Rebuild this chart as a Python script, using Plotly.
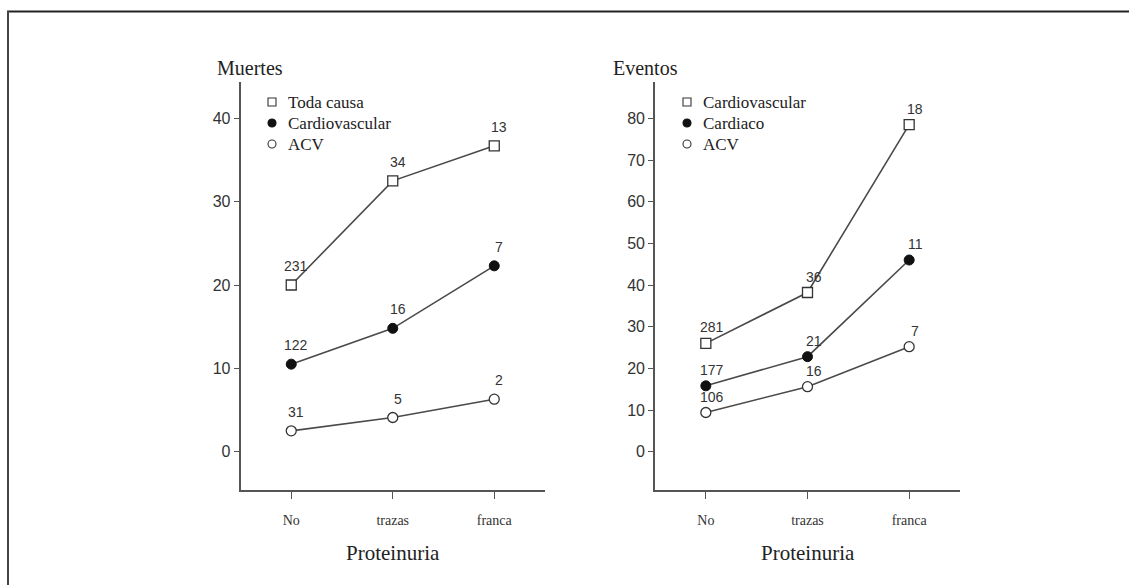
import plotly.graph_objects as go

W, H = 1129, 585

# Proteinuria categories
proteinuria = ["No", "trazas", "franca"]

# Deaths panel (rates) and the counts printed above each point
muertes_toda = [20.0, 32.5, 36.7]
muertes_cv = [10.5, 14.8, 22.3]
muertes_acv = [2.5, 4.1, 6.3]
n_muertes_toda = ["231", "34", "13"]
n_muertes_cv = ["122", "16", "7"]
n_muertes_acv = ["31", "5", "2"]

# Events panel (rates) and counts
eventos_cv = [26.0, 38.2, 78.5]
eventos_card = [15.8, 22.8, 46.0]
eventos_acv = [9.4, 15.6, 25.2]
n_eventos_cv = ["281", "36", "18"]
n_eventos_card = ["177", "21", "11"]
n_eventos_acv = ["106", "16", "7"]

names_muertes = ["Toda causa", "Cardiovascular", "ACV"]
names_eventos = ["Cardiovascular", "Cardiaco", "ACV"]

SERIF = "Liberation Serif, Times New Roman, serif"
SANS = "Liberation Sans Narrow, Liberation Sans, Arial, sans-serif"
INK = "#333333"
LINE = "#4a4a4a"


def px(x):
    return x / W


def py(y):
    return 1 - y / H


# marker styles: open square, filled circle, open circle
styles = [
    dict(symbol="square", size=10, color="white", line=dict(color=INK, width=1.3)),
    dict(symbol="circle", size=10, color="#111111", line=dict(color="#111111", width=1)),
    dict(symbol="circle", size=10, color="white", line=dict(color=INK, width=1.3)),
]

fig = go.Figure()

panels = [
    ("x", "y", [muertes_toda, muertes_cv, muertes_acv],
     [n_muertes_toda, n_muertes_cv, n_muertes_acv], names_muertes, 5, 19),
    ("x2", "y2", [eventos_cv, eventos_card, eventos_acv],
     [n_eventos_cv, n_eventos_card, n_eventos_acv], names_eventos, 6, 16),
]

annotations = []
for xa, ya, series, counts, names, dx, dy in panels:
    for vals, labs, st, nm in zip(series, counts, styles, names):
        fig.add_trace(go.Scatter(
            x=proteinuria, y=vals, mode="lines+markers", name=nm,
            xaxis=xa, yaxis=ya, showlegend=False,
            line=dict(color=LINE, width=1.6),
            marker=st, cliponaxis=False,
        ))
        for cat, v, lab in zip(proteinuria, vals, labs):
            annotations.append(dict(
                x=cat, y=v, xref=xa, yref=ya, text=lab, showarrow=False,
                xshift=dx, yshift=dy,
                font=dict(family=SANS, size=14, color=INK),
            ))

axis_common = dict(
    showline=True, linecolor="#555555", linewidth=1.6, showgrid=False,
    zeroline=False, ticks="outside", tickcolor="#555555", tickwidth=1.4,
)

fig.update_layout(
    width=W, height=H, margin=dict(l=0, r=0, t=0, b=0),
    paper_bgcolor="white", plot_bgcolor="white", showlegend=False,
    xaxis=dict(domain=[px(240.5), px(545)], type="category", range=[-0.5, 2.5],
               ticklen=7, ticklabelstandoff=9, anchor="y",
               tickfont=dict(family=SERIF, size=14, color=INK), **axis_common),
    yaxis=dict(domain=[py(490), py(81.7)], range=[-4.6, 44.4],
               tickvals=[0, 10, 20, 30, 40], ticklen=5, anchor="x",
               tickfont=dict(family=SANS, size=16, color=INK), **axis_common),
    xaxis2=dict(domain=[px(655), px(960)], type="category", range=[-0.5, 2.5],
                ticklen=7, ticklabelstandoff=9, anchor="y2",
                tickfont=dict(family=SERIF, size=14, color=INK), **axis_common),
    yaxis2=dict(domain=[py(490), py(81.7)], range=[-9.2, 88.8],
                tickvals=[0, 10, 20, 30, 40, 50, 60, 70, 80], ticklen=5, anchor="x2",
                tickfont=dict(family=SANS, size=16, color=INK), **axis_common),
)

# panel titles and x-axis titles
for x0, title in [(215, "Muertes"), (611, "Eventos")]:
    annotations.append(dict(x=px(x0), y=py(68), xref="paper", yref="paper",
                            xanchor="left", yanchor="middle", text=title, showarrow=False,
                            font=dict(family=SERIF, size=20, color="#222222")))
for xc in [393, 808]:
    annotations.append(dict(x=px(xc), y=py(553), xref="paper", yref="paper",
                            xanchor="center", yanchor="middle", text="Proteinuria",
                            showarrow=False,
                            font=dict(family=SERIF, size=21, color="#222222")))

# in-panel legends: symbol swatches plus labels
shapes = []
legend_rows = [102, 123, 144]
for mx, names in [(272, names_muertes), (687, names_eventos)]:
    for row, nm, st in zip(legend_rows, names, styles):
        r = 4
        kind = "rect" if st["symbol"] == "square" else "circle"
        shapes.append(dict(type=kind, xref="paper", yref="paper",
                           x0=px(mx - r), x1=px(mx + r), y0=py(row + r), y1=py(row - r),
                           fillcolor=st["color"], line=dict(color=st["line"]["color"], width=1.1)))
        annotations.append(dict(x=px(mx + 14), y=py(row), xref="paper", yref="paper",
                                xanchor="left", yanchor="middle", text=nm, showarrow=False,
                                font=dict(family=SERIF, size=17, color="#222222")))

# page frame (top and left rules)
shapes.append(dict(type="line", xref="paper", yref="paper", x0=px(7), x1=1,
                   y0=py(11.5), y1=py(11.5), line=dict(color="#222222", width=2)))
shapes.append(dict(type="line", xref="paper", yref="paper", x0=px(8), x1=px(8),
                   y0=py(11), y1=0, line=dict(color="#444444", width=2)))

fig.update_layout(annotations=annotations, shapes=shapes)

fig.write_html("out.html")
